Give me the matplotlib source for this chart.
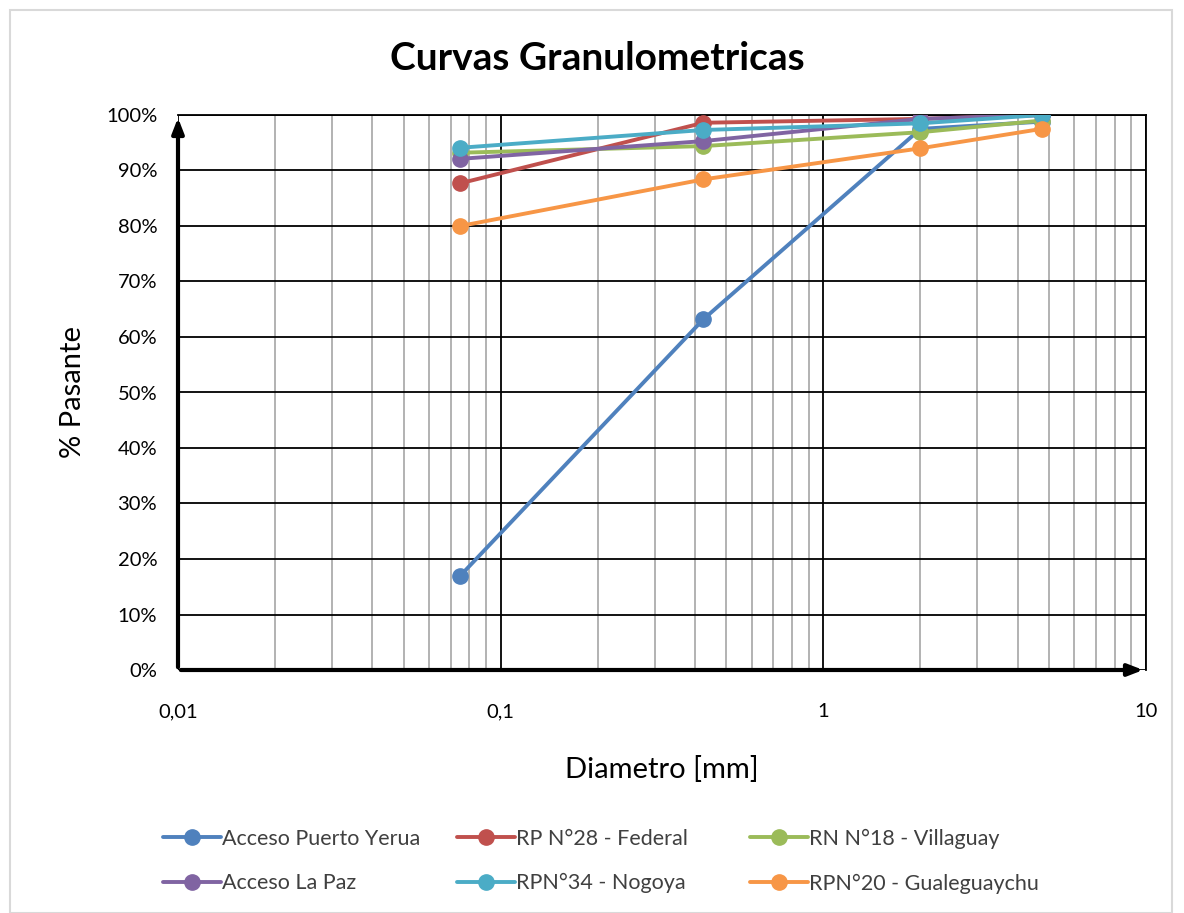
import matplotlib
matplotlib.use('Agg')
import matplotlib.pyplot as plt
from matplotlib.ticker import FixedLocator, FuncFormatter, NullFormatter
from matplotlib.patches import Rectangle

plt.rcParams['font.family'] = ['Lato', 'DejaVu Sans']

# sieve openings in mm
diametros = [0.075, 0.425, 2.0, 4.75]

series_names = ['Acceso Puerto Yerua', 'RP N°28 - Federal', 'RN N°18 - Villaguay',
                'Acceso La Paz', 'RPN°34 - Nogoya', 'RPN°20 - Gualeguaychu']
puerto_yerua = [17.0, 63.2, 97.5, 98.8]
federal = [87.7, 98.6, 99.3, 100.0]
villaguay = [93.2, 94.4, 96.9, 99.0]
la_paz = [92.1, 95.3, 99.3, 100.0]
nogoya = [94.1, 97.3, 98.5, 100.0]
gualeguaychu = [80.0, 88.4, 94.0, 97.5]
colors = ['#4f81bd', '#c0504d', '#9bbb59', '#8064a2', '#4bacc6', '#f79646']

y_ticks = [0, 10, 20, 30, 40, 50, 60, 70, 80, 90, 100]
x_major = [0.01, 0.1, 1, 10]
x_major_labels = ['0,01', '0,1', '1', '10']

fig = plt.figure(figsize=(11.84, 9.13), dpi=100)
ax = fig.add_axes([178 / 1184, 1 - 670 / 913, (1146 - 178) / 1184, (670 - 115) / 913])

data = [puerto_yerua, federal, villaguay, la_paz, nogoya, gualeguaychu]
handles = []
for name, vals, c in zip(series_names, data, colors):
    h, = ax.plot(diametros, vals, '-o', color=c, lw=2.8, ms=11, label=name,
                 solid_capstyle='round', zorder=3)
    handles.append(h)

ax.set_xscale('log')
ax.set_xlim(0.01, 10)
ax.set_ylim(0, 100)
ax.xaxis.set_major_locator(FixedLocator(x_major))
ax.xaxis.set_major_formatter(FuncFormatter(lambda v, p: x_major_labels[x_major.index(v)] if v in x_major else ''))
minors = [m * d for d in [0.01, 0.1, 1] for m in range(2, 10)]
ax.xaxis.set_minor_locator(FixedLocator(minors))
ax.xaxis.set_minor_formatter(NullFormatter())
ax.set_yticks(y_ticks)
ax.set_yticklabels(['%d%%' % v for v in y_ticks])

ax.grid(True, which='minor', axis='x', color='#a6a6a6', lw=1.2, zorder=0)
ax.grid(True, which='major', axis='x', color='black', lw=1.3, zorder=1)
ax.grid(True, which='major', axis='y', color='black', lw=1.3, zorder=1)
ax.tick_params(which='both', length=0, labelsize=14.5, pad=15)
ax.tick_params(axis='x', pad=24)

for s in ['top', 'right']:
    ax.spines[s].set_linewidth(1.3)
for s in ['left', 'bottom']:
    ax.spines[s].set_visible(False)

# axis arrows
ax.annotate('', xy=(0, 1.0), xytext=(0, 0), xycoords='axes fraction',
            arrowprops=dict(arrowstyle='-|>,head_length=0.9,head_width=0.35', lw=3, color='black'),
            zorder=5, annotation_clip=False)
ax.annotate('', xy=(1.0, 0), xytext=(0, 0), xycoords='axes fraction',
            arrowprops=dict(arrowstyle='-|>,head_length=0.9,head_width=0.35', lw=3, color='black'),
            zorder=5, annotation_clip=False)

ax.set_xlabel('Diametro [mm]', fontsize=21, labelpad=26)
ax.set_ylabel('% Pasante', fontsize=21, labelpad=14)
fig.text(597 / 1184, 1 - 58 / 913, 'Curvas Granulometricas', ha='center', va='center',
         fontsize=28, fontweight='bold')

# one legend per column so the columns sit at fixed places, like Excel does
col_x = [163, 457, 750]
for j, xpix in enumerate(col_x):
    leg = fig.legend([handles[j], handles[j + 3]], [series_names[j], series_names[j + 3]],
                     loc='center left', bbox_to_anchor=(xpix / 1184, 1 - 861 / 913),
                     frameon=False, fontsize=15.5, handlelength=2.7, labelspacing=1.15,
                     handletextpad=0.05, borderpad=0, borderaxespad=0)
    for t in leg.get_texts():
        t.set_color('#404040')

fig.patches.append(Rectangle((10 / 1184, 0), (1172 - 10) / 1184, 1 - 10 / 913,
                             transform=fig.transFigure, fill=False, ec='#d9d9d9', lw=1.5))

fig.savefig('out.png', dpi=100)
